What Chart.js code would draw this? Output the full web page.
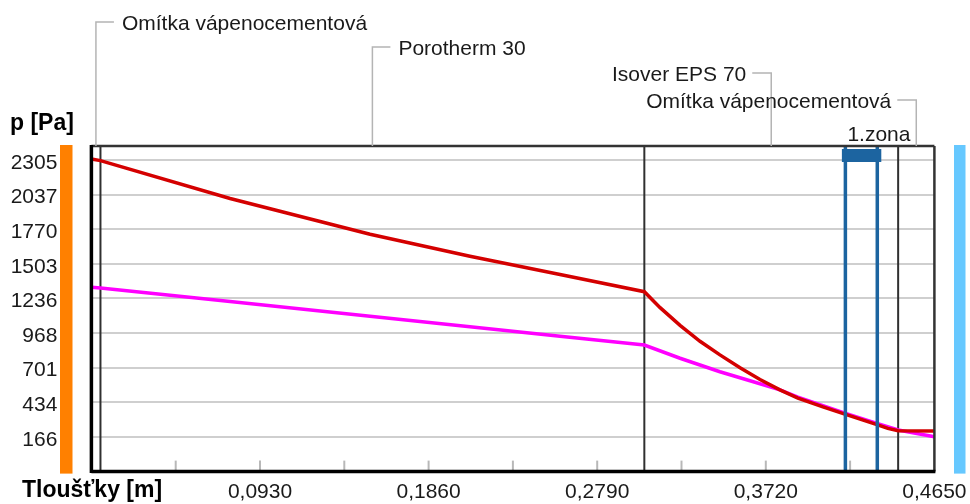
<!DOCTYPE html>
<html>
<head>
<meta charset="utf-8">
<script src="https://cdn.jsdelivr.net/npm/chart.js@4.4.1/dist/chart.umd.min.js"></script>
<style>
html, body { margin: 0; padding: 0; background: #fff; }
#wrap { width: 970px; height: 504px; }
</style>
</head>
<body>
<div id="wrap"><canvas id="chart" width="970" height="504"></canvas></div>
<script>
// layers of the wall [m]
const layerNames = ['Omítka vápenocementová', 'Porotherm 30', 'Isover EPS 70', 'Omítka vápenocementová'];
const layerBounds = [0, 0.005, 0.305, 0.445, 0.465];
// condensation zone [m]
const zoneBounds = [0.4159, 0.4335];
const zoneLabel = '1.zona';

// saturation pressure (red)
const satX = [0, 0.005, 0.0765, 0.1537, 0.2088, 0.2585, 0.305, 0.3137, 0.3247, 0.3357, 0.3467, 0.3578, 0.3688, 0.3798, 0.3897, 0.4035, 0.4156, 0.4333, 0.4393, 0.445, 0.465];
const satP = [2312, 2300, 2008, 1732, 1562, 1420, 1288, 1165, 1028, 905, 800, 700, 610, 530, 466, 398, 343, 262, 232, 215, 212];

// partial pressure (magenta)
const parX = [0, 0.005, 0.0765, 0.1537, 0.2088, 0.2585, 0.305, 0.3247, 0.3357, 0.3467, 0.3633, 0.3798, 0.3897, 0.4035, 0.4156, 0.4333, 0.445, 0.465];
const parP = [1322, 1316, 1212, 1098, 1017, 944, 876, 774, 722, 670, 600, 530, 474, 408, 350, 270, 220, 168];

// axes
const yTicks = [166, 434, 701, 968, 1236, 1503, 1770, 2037, 2305];
const xTicks = [0, 0.0465, 0.093, 0.1395, 0.186, 0.2325, 0.279, 0.3255, 0.372, 0.4185, 0.465];
const xLabels = [0.093, 0.186, 0.279, 0.372, 0.465];

const txtFont = '21px "Liberation Sans", Arial, sans-serif';
const boldFont = 'bold 23px "Liberation Sans", Arial, sans-serif';

function pts(xs, ys) {
    return xs.map((v, i) => ({x: v, y: ys[i]}));
}

function line(ctx, x1, y1, x2, y2) {
    ctx.beginPath();
    ctx.moveTo(x1, y1);
    ctx.lineTo(x2, y2);
    ctx.stroke();
}

const decor = {
    id: 'decor',
    beforeDatasetsDraw(chart) {
        const ctx = chart.ctx, a = chart.chartArea, x = chart.scales.x;
        ctx.save();
        // small tick marks at the bottom
        ctx.strokeStyle = '#b8b8b8';
        ctx.lineWidth = 2;
        xTicks.forEach(v => {
            if (v <= 0 || v >= 0.465) return;
            const px = x.getPixelForValue(v);
            line(ctx, px, a.bottom - 11, px, a.bottom);
        });
        // layer boundaries
        ctx.strokeStyle = '#303030';
        ctx.lineWidth = 2;
        layerBounds.slice(1, -1).forEach(v => {
            const px = x.getPixelForValue(v);
            line(ctx, px, a.top, px, a.bottom);
        });
        ctx.restore();
    },
    afterDatasetsDraw(chart) {
        const ctx = chart.ctx, a = chart.chartArea, x = chart.scales.x;
        ctx.save();
        // condensation zone
        const z1 = x.getPixelForValue(zoneBounds[0]);
        const z2 = x.getPixelForValue(zoneBounds[1]);
        ctx.strokeStyle = '#1c64a0';
        ctx.lineWidth = 3.5;
        line(ctx, z1, a.top, z1, a.bottom);
        line(ctx, z2, a.top, z2, a.bottom);
        ctx.fillStyle = '#1c64a0';
        ctx.fillRect(z1 - 3.5, a.top + 3, z2 - z1 + 7.5, 13);
        // frame
        ctx.strokeStyle = '#333';
        ctx.lineWidth = 2.5;
        line(ctx, a.left, a.top, a.right, a.top);
        line(ctx, a.right, a.top, a.right, a.bottom);
        ctx.strokeStyle = '#000';
        ctx.lineWidth = 3.5;
        line(ctx, a.left, a.top - 1, a.left, a.bottom + 1.5);
        line(ctx, a.left, a.bottom, a.right + 1, a.bottom);
        ctx.restore();
    },
    afterDraw(chart) {
        const ctx = chart.ctx, a = chart.chartArea, x = chart.scales.x;
        ctx.save();
        // side bars
        ctx.fillStyle = '#ff8000';
        ctx.fillRect(60, a.top - 1, 12.5, a.bottom - a.top + 3);
        ctx.fillStyle = '#66c8ff';
        ctx.fillRect(954, a.top - 1, 11.5, a.bottom - a.top + 3);

        // layer names with leader lines
        const leadY = [22, 47, 73, 100];
        ctx.font = txtFont;
        ctx.fillStyle = '#1a1a1a';
        ctx.textBaseline = 'alphabetic';
        layerNames.forEach((name, i) => {
            const cx = x.getPixelForValue((layerBounds[i] + layerBounds[i + 1]) / 2);
            const ly = leadY[i];
            ctx.strokeStyle = '#b4b4b4';
            ctx.lineWidth = 1.5;
            ctx.beginPath();
            if (i < 2) {
                ctx.moveTo(cx, a.top);
                ctx.lineTo(cx, ly);
                ctx.lineTo(cx + 18, ly);
                ctx.stroke();
                ctx.textAlign = 'left';
                ctx.fillText(name, cx + 26, ly + 8);
            } else {
                ctx.moveTo(cx, a.top);
                ctx.lineTo(cx, ly);
                ctx.lineTo(cx - 19, ly);
                ctx.stroke();
                ctx.textAlign = 'right';
                ctx.fillText(name, cx - 25, ly + 8);
            }
        });

        // zone label
        ctx.textAlign = 'left';
        ctx.fillText(zoneLabel, x.getPixelForValue(zoneBounds[0]) + 2, 141);

        // axis titles
        ctx.font = boldFont;
        ctx.fillStyle = '#000';
        ctx.fillText('p [Pa]', 10, 130);
        ctx.fillText('Tloušťky [m]', 22, 497);
        ctx.restore();
    }
};

const ctx = document.getElementById('chart').getContext('2d');
const chart = new Chart(ctx, {
    type: 'line',
    data: {
        datasets: [{
            label: 'p sat',
            data: pts(satX, satP),
            borderColor: '#d40000',
            borderWidth: 3.5,
            pointRadius: 0,
            tension: 0
        }, {
            label: 'p',
            data: pts(parX, parP),
            borderColor: '#ff00ff',
            borderWidth: 3.5,
            pointRadius: 0,
            tension: 0
        }]
    },
    options: {
        responsive: false,
        animation: false,
        layout: {padding: {left: 0, top: 146, right: 35.6, bottom: 0}},
        plugins: {legend: {display: false}, tooltip: {enabled: false}},
        scales: {
            x: {
                type: 'linear',
                min: 0,
                max: 0.465,
                grid: {display: false, drawTicks: false},
                border: {display: false},
                afterBuildTicks: s => { s.ticks = xTicks.map(v => ({value: v})); },
                afterFit: s => {
                    s.height = 32.4;
                    s.paddingLeft = 0;
                    s.paddingRight = 0;
                },
                ticks: {
                    autoSkip: false,
                    maxRotation: 0,
                    padding: 8,
                    color: '#1a1a1a',
                    font: {family: '"Liberation Sans", Arial, sans-serif', size: 21},
                    callback: v => xLabels.includes(v) ? v.toFixed(4).replace('.', ',') : ''
                }
            },
            y: {
                type: 'linear',
                min: -101.4,
                max: 2413,
                grid: {color: '#cfcfcf', lineWidth: 2, drawTicks: false},
                border: {display: false},
                afterBuildTicks: s => { s.ticks = yTicks.map(v => ({value: v})); },
                afterFit: s => {
                    s.width = 91.4;
                    s.paddingTop = 0;
                    s.paddingBottom = 0;
                },
                ticks: {
                    autoSkip: false,
                    padding: 34,
                    labelOffset: 3,
                    color: '#1a1a1a',
                    font: {family: '"Liberation Sans", Arial, sans-serif', size: 21},
                    callback: v => String(v)
                }
            }
        }
    },
    plugins: [decor]
});
</script>
</body>
</html>
